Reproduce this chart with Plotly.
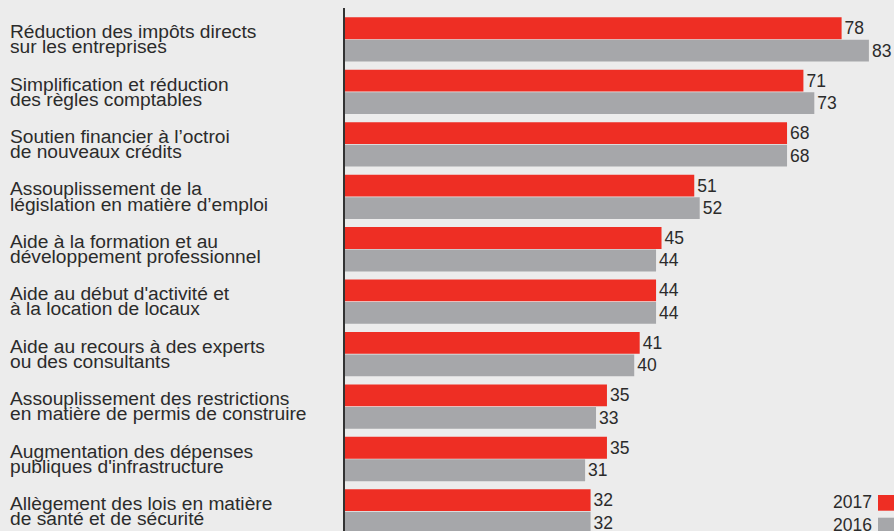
import plotly.graph_objects as go

categories = [
    "Réduction des impôts directs\nsur les entreprises",
    "Simplification et réduction\ndes règles comptables",
    "Soutien financier à l’octroi\nde nouveaux crédits",
    "Assouplissement de la\nlégislation en matière d’emploi",
    "Aide à la formation et au\ndéveloppement professionnel",
    "Aide au début d'activité et\nà la location de locaux",
    "Aide au recours à des experts\nou des consultants",
    "Assouplissement des restrictions\nen matière de permis de construire",
    "Augmentation des dépenses\npubliques d'infrastructure",
    "Allègement des lois en matière\nde santé et de sécurité",
]
values_2017 = [78, 71, 68, 51, 45, 44, 41, 35, 35, 32]
values_2016 = [83, 73, 68, 52, 44, 44, 40, 33, 31, 32]
series_names = ["2017", "2016"]

RED = "#ee2e24"
GRAY = "#a6a7aa"
BG = "#ececec"
TXT = "#2b2b2b"
FONT = "Liberation Sans, Arial, sans-serif"
AXIS_START = -13  # the value axis starts below zero; bars start at the axis line

fig = go.Figure()
for name, vals, col in [(series_names[0], values_2017, RED), (series_names[1], values_2016, GRAY)]:
    fig.add_trace(go.Bar(
        name=name,
        y=categories,
        x=[v - AXIS_START for v in vals],
        base=AXIS_START,
        orientation="h",
        marker=dict(color=col, line=dict(width=0)),
        text=[str(v) for v in vals],
        texttemplate="%{text}",
        textposition="outside",
        textfont=dict(size=17.5, color=TXT, family=FONT),
        constraintext="none",
        cliponaxis=False,
        hoverinfo="skip",
        showlegend=False,
    ))

annotations = []
for cat in categories:
    l1, l2 = cat.split("\n")
    for txt, shift in [(l1, 7.9), (l2, -7.3)]:
        annotations.append(dict(
            text=txt, xref="paper", x=0, xshift=-337, xanchor="left",
            yref="y", y=cat, yanchor="middle", yshift=shift,
            showarrow=False, font=dict(size=19.2, color=TXT, family=FONT),
        ))

# legend (text left of the colour square)
shapes = []
for i, (name, col) in enumerate(zip(series_names, [RED, GRAY])):
    annotations.append(dict(
        text=name, xref="paper", x=1, xshift=-20, xanchor="right",
        yref="paper", y=0, yshift=29 - i * 23, yanchor="middle",
        showarrow=False, font=dict(size=17.5, color=TXT, family=FONT),
    ))
    y1 = 36 - i * 22.7
    shapes.append(dict(
        type="rect", xref="paper", yref="paper",
        x0=(878 - 345) / 549, x1=(900 - 345) / 549,
        y0=(y1 - 15.7) / 523, y1=y1 / 523,
        fillcolor=col, line=dict(width=0),
    ))

fig.update_layout(
    width=894, height=531,
    margin=dict(l=345, r=0, t=8, b=0),
    paper_bgcolor=BG, plot_bgcolor=BG,
    barmode="group", bargap=0.142, bargroupgap=0.03,
    font=dict(family=FONT, color=TXT),
    xaxis=dict(range=[AXIS_START, 87.6], showgrid=False, zeroline=False,
               showticklabels=False, ticks="", showline=False, fixedrange=True),
    yaxis=dict(range=[9.373, -0.6], showgrid=False, zeroline=False,
               showticklabels=False, ticks="", showline=True,
               linecolor="#333333", linewidth=1.5, fixedrange=True),
    annotations=annotations,
    shapes=shapes,
)

fig.write_html(
    "out.html",
    config={"displayModeBar": False},
    post_script="document.body.style.margin='0';document.body.style.background='#ececec';document.body.style.overflow='hidden';",
)
